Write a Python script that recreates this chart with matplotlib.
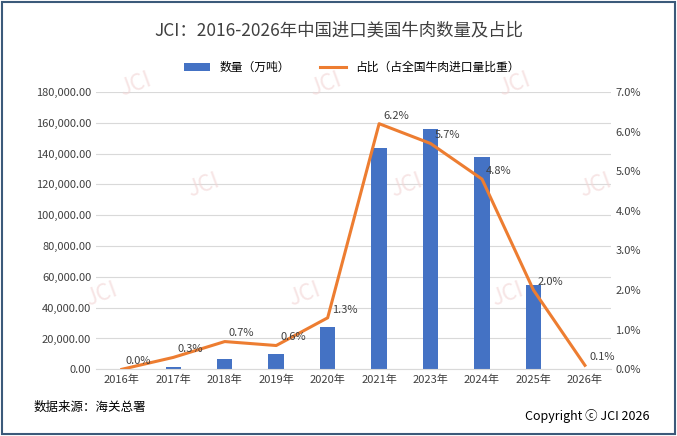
import numpy as np
import matplotlib
matplotlib.use("Agg")
import matplotlib.pyplot as plt
from matplotlib.patches import Rectangle

plt.rcParams['font.family'] = ['Noto Sans CJK SC', 'DejaVu Sans']

years = ["2016年", "2017年", "2018年", "2019年", "2020年", "2021年", "2023年", "2024年", "2025年", "2026年"]
volume = [0, 1500, 6500, 10000, 27500, 143500, 156000, 138000, 55000, 0]
share = [0.0, 0.3, 0.7, 0.6, 1.3, 6.2, 5.7, 4.8, 2.0, 0.1]

blue = "#4472C4"
orange = "#ED7D31"

fig = plt.figure(figsize=(6.77, 4.36), dpi=100)
fig.patches.append(Rectangle((0.003, 0.004), 0.994, 0.992, transform=fig.transFigure,
                             fill=False, edgecolor="#3B5A7A", linewidth=1.5))

ax = fig.add_axes([0.142, 0.153, 0.76, 0.636])
x = np.arange(len(years))
ax.bar(x, volume, width=0.3, color=blue, label="数量（万吨）", zorder=2)
ax.set_ylim(0, 180000)
ax.set_yticks(np.arange(0, 180001, 20000))
ax.set_yticklabels([f"{v:,.2f}" for v in np.arange(0, 180001, 20000)])
ax.set_xlim(-0.5, len(years) - 0.5)
ax.set_xticks(x)
ax.set_xticklabels(years)
ax.grid(axis="y", color="#D9D9D9", linewidth=0.8, zorder=0)
for s in ["top", "right", "left"]:
    ax.spines[s].set_visible(False)
ax.spines["bottom"].set_color("#D9D9D9")
ax.tick_params(length=0, labelsize=8, colors="#404040")

ax2 = ax.twinx()
ax2.plot(x, share, color=orange, linewidth=2.2, label="占比（占全国牛肉进口量比重）", zorder=3)
ax2.set_ylim(0, 7)
ax2.set_yticks(np.arange(0, 7.1, 1))
ax2.set_yticklabels([f"{v:.1f}%" for v in np.arange(0, 7.1, 1)])
for s in ax2.spines.values():
    s.set_visible(False)
ax2.tick_params(length=0, labelsize=8, colors="#404040")
for xi, v in zip(x, share):
    ax2.text(xi + 0.08, v + 0.08, f"{v:.1f}%", fontsize=8, color="#404040", va="bottom", ha="left")

# faint watermarks
for wx, wy in [(0.2, 0.78), (0.48, 0.78), (0.76, 0.78), (0.3, 0.55), (0.6, 0.55), (0.88, 0.55),
               (0.15, 0.3), (0.45, 0.3), (0.75, 0.3)]:
    fig.text(wx, wy, "JCI", fontsize=16, color="#F2D4D4", alpha=0.6, rotation=20, ha="center", zorder=0)

fig.text(0.5, 0.93, "JCI：2016-2026年中国进口美国牛肉数量及占比", ha="center", va="center",
         fontsize=12.5, color="#404040")
h1, l1 = ax.get_legend_handles_labels()
h2, l2 = ax2.get_legend_handles_labels()
fig.legend(h1 + h2, l1 + l2, loc="center", bbox_to_anchor=(0.52, 0.845), ncol=2, frameon=False,
           fontsize=8.5, handlelength=2.2, columnspacing=2.5)
fig.text(0.05, 0.065, "数据来源：海关总署", fontsize=9, color="#000000", va="center")
fig.text(0.96, 0.045, "Copyright ⓒ JCI 2026", fontsize=9, color="#000000", va="center", ha="right")

fig.savefig("out.png", dpi=100)
